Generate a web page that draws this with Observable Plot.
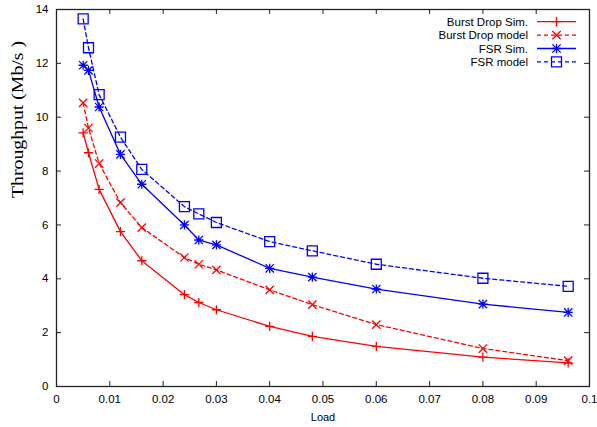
<!DOCTYPE html>
<html><head><meta charset="utf-8">
<script src="https://cdn.jsdelivr.net/npm/d3@7"></script>
<script src="https://cdn.jsdelivr.net/npm/@observablehq/plot@0.6"></script>
<style>body{margin:0;background:#fff;}#chart{width:597px;height:427px;}</style>
</head><body><div id="chart"></div>
<script>
const load = [0.005, 0.006, 0.008, 0.012, 0.016, 0.024, 0.0267, 0.030, 0.040, 0.048, 0.060, 0.080, 0.096];
const burstDropSim = [9.42, 8.68, 7.32, 5.75, 4.67, 3.41, 3.12, 2.85, 2.23, 1.86, 1.49, 1.09, 0.88];
const burstDropModel = [10.53, 9.60, 8.28, 6.83, 5.90, 4.79, 4.54, 4.33, 3.59, 3.04, 2.30, 1.41, 0.96];
const fsrSim = [11.93, 11.74, 10.38, 8.62, 7.51, 6.00, 5.44, 5.26, 4.39, 4.06, 3.62, 3.06, 2.75];
const fsrModel = [13.65, 12.58, 10.84, 9.26, 8.06, 6.68, 6.41, 6.09, 5.38, 5.04, 4.54, 4.02, 3.72];
const seriesNames = ["Burst Drop Sim.", "Burst Drop model", "FSR Sim.", "FSR model"];
const xTicks = [0, 0.01, 0.02, 0.03, 0.04, 0.05, 0.06, 0.07, 0.08, 0.09, 0.1];
const yTicks = [0, 2, 4, 6, 8, 10, 12, 14];
const xLabel = "Load";
const yLabel = "Throughput (Mb/s )";

const W = 597, H = 427;
const mL = 56, mR = 8, mT = 9, mB = 41;
const PW = W - mL - mR, PH = H - mT - mB;

const sym = (fn) => ({draw(ctx, size) { fn(ctx, Math.sqrt(size / Math.PI)); }});
const plusSym = sym((c, r) => { c.moveTo(-r, 0); c.lineTo(r, 0); c.moveTo(0, -r); c.lineTo(0, r); });
const timesSym = sym((c, r) => { const k = r * 0.9; c.moveTo(-k, -k); c.lineTo(k, k); c.moveTo(-k, k); c.lineTo(k, -k); });
const starSym = sym((c, r) => { const k = r * 0.9; c.moveTo(-r, 0); c.lineTo(r, 0); c.moveTo(0, -r); c.lineTo(0, r); c.moveTo(-k, -k); c.lineTo(k, k); c.moveTo(-k, k); c.lineTo(k, -k); });
const squareSym = sym((c, r) => { c.rect(-r, -r, 2 * r, 2 * r); });

const series = [
  {name: seriesNames[0], values: burstDropSim, color: "#ff0000", dash: null, symbol: plusSym, r: 4.6},
  {name: seriesNames[1], values: burstDropModel, color: "#ff0000", dash: "4,3", symbol: timesSym, r: 4.6},
  {name: seriesNames[2], values: fsrSim, color: "#0000ff", dash: null, symbol: starSym, r: 4.6},
  {name: seriesNames[3], values: fsrModel, color: "#0000ff", dash: "4,3", symbol: squareSym, r: 5}
];
const rows = s => load.map((x, i) => ({load: x, value: s.values[i]}));

const marks = [
  Plot.axisY(yTicks, {tickSize: 0, tickPadding: 8, fontSize: 11.5, label: null}),
  Plot.axisX(xTicks, {tickSize: 0, tickPadding: 8, fontSize: 11.5, label: null,
    tickFormat: d => d === 0 ? "0" : String(+d.toFixed(2))}),
  Plot.tickY(yTicks, {y: d => d, insetRight: PW - 5, stroke: "#222", strokeWidth: 1}),
  Plot.tickY(yTicks, {y: d => d, insetLeft: PW - 5, stroke: "#222", strokeWidth: 1}),
  Plot.tickX(xTicks, {x: d => d, insetTop: PH - 5, stroke: "#222", strokeWidth: 1}),
  Plot.tickX(xTicks, {x: d => d, insetBottom: PH - 5, stroke: "#222", strokeWidth: 1}),
  Plot.frame({stroke: "#222", strokeWidth: 1.3}),
  Plot.text([xLabel], {frameAnchor: "bottom", dy: 31, fontSize: 11, lineAnchor: "middle"}),
  Plot.text([yLabel], {frameAnchor: "left", dx: -39, rotate: -90, fontSize: 16.5,
    fontFamily: "'Liberation Serif', 'Times New Roman', serif", lineAnchor: "middle", className: "ylab"})
];
for (const s of series) {
  marks.push(Plot.line(rows(s), {x: "load", y: "value", stroke: s.color, strokeWidth: 1.3, strokeDasharray: s.dash}));
  marks.push(Plot.dot(rows(s), {x: "load", y: "value", symbol: s.symbol, r: s.r, fill: "none", stroke: s.color, strokeWidth: 1.3}));
}

const svg = Plot.plot({
  width: W, height: H,
  marginLeft: mL, marginRight: mR, marginTop: mT, marginBottom: mB,
  x: {domain: [0, 0.1]},
  y: {domain: [0, 14]},
  style: {fontFamily: "'Liberation Sans', Arial, sans-serif", fontSize: "11.5px", background: "#fff", color: "#000"},
  marks
});
document.getElementById("chart").appendChild(svg);

// y label length to match reference
d3.select(svg).selectAll(".ylab text").attr("textLength", 157).attr("lengthAdjust", "spacingAndGlyphs");

// Legend (inside plot, top-right)
const g = d3.select(svg).append("g").attr("font-size", 11.5)
  .attr("font-family", "'Liberation Sans', Arial, sans-serif");
series.forEach((s, i) => {
  const y = 21.7 + i * 13.4;
  g.append("text").attr("x", 528).attr("y", y).attr("dy", "0.35em").attr("text-anchor", "end").text(s.name);
  g.append("line").attr("x1", 537).attr("x2", 576).attr("y1", y).attr("y2", y)
    .attr("stroke", s.color).attr("stroke-width", 1.3).attr("stroke-dasharray", s.dash);
  const p = d3.path();
  s.symbol.draw(p, s.r * s.r * Math.PI);
  g.append("path").attr("d", p.toString()).attr("transform", `translate(556.5,${y})`)
    .attr("fill", "none").attr("stroke", s.color).attr("stroke-width", 1.3);
});
</script>
</body></html>
